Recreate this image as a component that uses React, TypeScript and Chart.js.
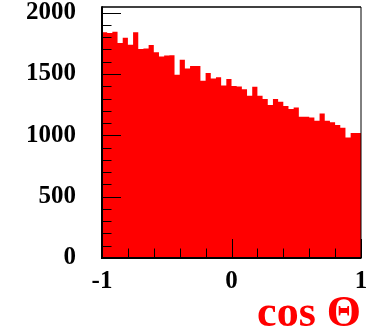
import React, { useEffect, useRef } from "react";
import { Chart, registerables } from "chart.js";

Chart.register(...registerables);

// Histogram of cos Θ: 50 bins from -1 to 1
const xMin = -1;
const xMax = 1;
const counts = [
  1840, 1835, 1845, 1753, 1796, 1739, 1840, 1704, 1707, 1737,
  1677, 1642, 1650, 1653, 1493, 1615, 1544, 1566, 1566, 1444,
  1507, 1463, 1474, 1406, 1460, 1403, 1397, 1376, 1322, 1395,
  1322, 1297, 1248, 1297, 1273, 1240, 1215, 1227, 1151, 1151,
  1145, 1118, 1178, 1118, 1107, 1085, 1061, 982, 1018, 1018,
];
const yMin = 0;
const yMax = 2046;
const yMajorStep = 500;
const yMinorStep = 100;
const xMinorStep = 0.2;
const xTitle = "cos Θ";

const FONT = "'Liberation Serif', 'Times New Roman', serif";

export default function App() {
  const ref = useRef<HTMLCanvasElement>(null);

  useEffect(() => {
    document.body.style.margin = "0";
    const canvas = ref.current;
    if (!canvas) return;

    const n = counts.length;
    const w = (xMax - xMin) / n;
    const points = counts.map((c, i) => ({ x: xMin + i * w, y: c }));
    points.push({ x: xMax, y: counts[n - 1] });

    const rootTicks = {
      id: "rootTicks",
      afterDatasetsDraw(chart: any) {
        const { ctx, chartArea: a, scales } = chart;
        ctx.save();
        ctx.strokeStyle = "#000";
        ctx.lineWidth = 1;
        for (const t of scales.y.ticks) {
          const y = Math.round(scales.y.getPixelForValue(t.value)) + 0.5;
          const major = Math.abs(t.value / yMajorStep - Math.round(t.value / yMajorStep)) < 1e-6;
          ctx.beginPath();
          ctx.moveTo(a.left, y);
          ctx.lineTo(a.left + (major ? 19 : 9.5), y);
          ctx.stroke();
        }
        for (const t of scales.x.ticks) {
          const x = Math.round(scales.x.getPixelForValue(t.value)) + 0.5;
          const major = Math.abs(t.value - Math.round(t.value)) < 1e-6;
          ctx.beginPath();
          ctx.moveTo(x, a.bottom);
          ctx.lineTo(x, a.bottom - (major ? 19 : 9.5));
          ctx.stroke();
        }
        // frame
        ctx.lineWidth = 1.5;
        ctx.beginPath();
        ctx.moveTo(a.left, a.top);
        ctx.lineTo(a.right, a.top);
        ctx.stroke();
        ctx.lineWidth = 1;
        ctx.beginPath();
        ctx.moveTo(a.right, a.top);
        ctx.lineTo(a.right, a.bottom);
        ctx.stroke();
        ctx.lineWidth = 2;
        ctx.beginPath();
        ctx.moveTo(a.left, a.top - 0.75);
        ctx.lineTo(a.left, a.bottom);
        ctx.lineTo(a.right + 0.5, a.bottom);
        ctx.stroke();
        ctx.restore();
      },
    };

    const chart = new Chart(canvas, {
      type: "line",
      data: {
        datasets: [
          {
            data: points,
            stepped: "before",
            fill: "origin",
            backgroundColor: "#ff0000",
            borderColor: "#ff0000",
            borderWidth: 0,
            pointRadius: 0,
          },
        ],
      },
      options: {
        animation: false,
        responsive: false,
        devicePixelRatio: 1,
        layout: { padding: { top: 7, right: 5, left: 0, bottom: 0 } },
        plugins: {
          legend: { display: false },
          tooltip: { enabled: false },
        },
        scales: {
          x: {
            type: "linear",
            min: xMin,
            max: xMax,
            grid: { display: false, drawTicks: false },
            border: { display: false },
            ticks: {
              stepSize: xMinorStep,
              autoSkip: false,
              maxRotation: 0,
              minRotation: 0,
              padding: 8.5,
              color: "#000",
              font: { family: FONT, size: 25, weight: "bold" },
              callback: (v: any) => {
                const r = Math.round(v);
                return Math.abs(v - r) < 1e-6 ? String(r) : "";
              },
            },
            title: {
              display: true,
              text: xTitle,
              align: "end",
              color: "#ff0000",
              font: { family: FONT, size: 44, weight: "bold", lineHeight: 1 },
              padding: { top: 0, bottom: -4.5 },
            },
            afterFit: (s: any) => {
              s.height = 74;
              s.paddingLeft = 0;
              s.paddingRight = 0;
            },
          },
          y: {
            type: "linear",
            min: yMin,
            max: yMax,
            grid: { display: false, drawTicks: false },
            border: { display: false },
            ticks: {
              stepSize: yMinorStep,
              includeBounds: false,
              autoSkip: false,
              padding: 26,
              color: "#000",
              font: { family: FONT, size: 25, weight: "bold" },
              callback: (v: any) =>
                Math.abs(v / yMajorStep - Math.round(v / yMajorStep)) < 1e-6 ? String(v) : "",
            },
            afterFit: (s: any) => {
              s.width = 102;
              s.paddingTop = 0;
              s.paddingBottom = 0;
            },
          },
        },
      },
      plugins: [rootTicks],
    } as any);

    return () => chart.destroy();
  }, []);

  return (
    <div style={{ width: 366, height: 332 }}>
      <canvas ref={ref} width={366} height={332} />
    </div>
  );
}
